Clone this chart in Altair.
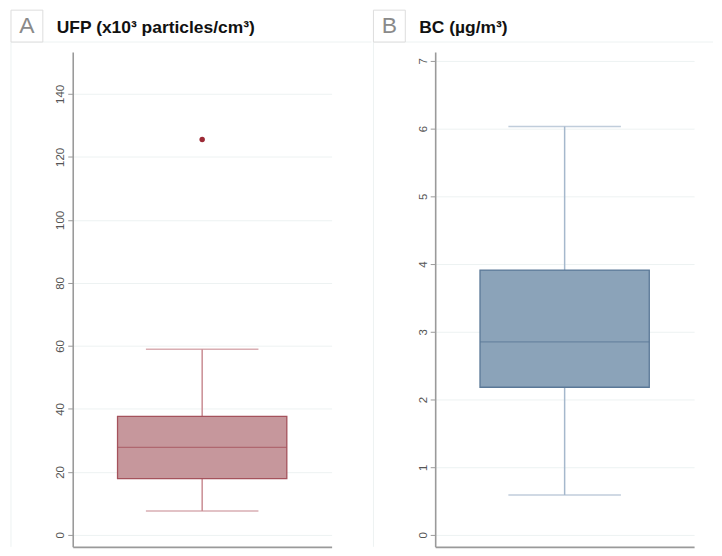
import altair as alt
import pandas as pd

# ---- data ----
categories = ["UFP", "BC"]
letters = ["A", "B"]
titles = ["UFP (x10³ particles/cm³)", "BC (µg/m³)"]
whisker_low = [7.6, 0.59]
q1 = [17.9, 2.18]
median = [27.8, 2.85]
q3 = [37.6, 3.91]
whisker_high = [58.9, 6.03]
outliers_ufp = [125.5]
outliers_bc = []
ticks_ufp = [0, 20, 40, 60, 80, 100, 120, 140]
ticks_bc = [0, 1, 2, 3, 4, 5, 6, 7]
domain_ufp = [-3.79, 153.3]
domain_bc = [-0.176, 7.13]

# ---- style ----
fills = ["#c6979c", "#8ba3b9"]
strokes = ["#a5525c", "#5a7897"]
whisker_colors = ["#c98c93", "#a5b8cc"]
outlier_color = "#9c2a36"
FAINT = "#edf2f2"
FONT = "Liberation Sans"
W, H = 260, 497


def panel(i, y_ticks, y_domain, outliers, header_right):
    cat = categories[i]
    df = pd.DataFrame({
        "cat": [cat], "lo": [whisker_low[i]], "q1": [q1[i]], "med": [median[i]],
        "q3": [q3[i]], "hi": [whisker_high[i]],
        "letter": [letters[i]], "title": [titles[i]],
    })
    x = alt.X("cat:N", scale=alt.Scale(domain=[cat]),
              axis=alt.Axis(title=None, labels=False, ticks=False, grid=False,
                            domainColor="#9a9a9a", domainWidth=1.6))
    yscale = alt.Scale(domain=y_domain, nice=False, zero=False)
    yaxis = alt.Axis(title=None, values=y_ticks, grid=True, gridColor=FAINT, gridWidth=1,
                     domainColor="#9a9a9a", domainWidth=1.6, tickColor="#9a9a9a",
                     tickSize=5, tickWidth=1, labelAngle=-90, labelAlign="center",
                     labelBaseline="bottom", labelPadding=2, labelFont=FONT,
                     labelFontSize=11.5, labelColor="#555555")
    base = alt.Chart(df)

    def Y(field):
        return alt.Y(field, scale=yscale, axis=yaxis)

    wh_lo = base.mark_rule(color=whisker_colors[i], strokeWidth=1.5).encode(
        x=x, y=Y("lo:Q"), y2="q1:Q")
    wh_hi = base.mark_rule(color=whisker_colors[i], strokeWidth=1.5).encode(
        x=x, y=Y("q3:Q"), y2="hi:Q")
    cap_lo = base.mark_tick(color=whisker_colors[i], size=113, thickness=1.5).encode(
        x=x, y=Y("lo:Q"))
    cap_hi = base.mark_tick(color=whisker_colors[i], size=113, thickness=1.5).encode(
        x=x, y=Y("hi:Q"))
    box = base.mark_bar(size=170, fill=fills[i], stroke=strokes[i], strokeWidth=1.3).encode(
        x=x, y=Y("q1:Q"), y2="q3:Q")
    med = base.mark_tick(color=strokes[i], size=170, thickness=1.4).encode(
        x=x, y=Y("med:Q"))

    layers = [wh_lo, wh_hi, cap_lo, cap_hi, box, med]
    if outliers:
        odf = pd.DataFrame({"cat": [cat] * len(outliers), "v": outliers})
        layers.append(alt.Chart(odf).mark_circle(size=30, color=outlier_color, opacity=1).encode(
            x=x, y=Y("v:Q")))

    # header decoration (letter box, title, faint frame lines)
    hline = base.mark_rule(color=FAINT, strokeWidth=1).encode(
        x=alt.value(-62), x2=alt.value(header_right), y=alt.value(-10))
    vline = base.mark_rule(color=FAINT, strokeWidth=1).encode(
        x=alt.value(-62), y=alt.value(-10), y2=alt.value(H))
    lbox = base.mark_rect(fill="white", stroke="#dddddd", strokeWidth=1).encode(
        x=alt.value(-62), x2=alt.value(-30), y=alt.value(-42), y2=alt.value(-10))
    ltext = base.mark_text(font=FONT, fontSize=23, color="#8a8a8a", align="center",
                           baseline="middle").encode(
        x=alt.value(-46), y=alt.value(-26), text="letter:N")
    ttext = base.mark_text(font=FONT, fontSize=17.5, fontWeight="bold", color="#111111",
                           align="left", baseline="alphabetic").encode(
        x=alt.value(-16), y=alt.value(-19), text="title:N")

    return alt.layer(hline, vline, lbox, ltext, ttext, *layers).properties(width=W, height=H)


pA = panel(0, ticks_ufp, domain_ufp, outliers_ufp, 300)
pB = panel(1, ticks_bc, domain_bc, outliers_bc, 279)

chart = alt.hconcat(pA, pB, spacing=0).properties(
    padding={"left": 2, "top": 0, "right": 0, "bottom": 0}
).configure_view(stroke=None)

chart.save("out.html", embed_options={"renderer": "svg", "actions": False})
